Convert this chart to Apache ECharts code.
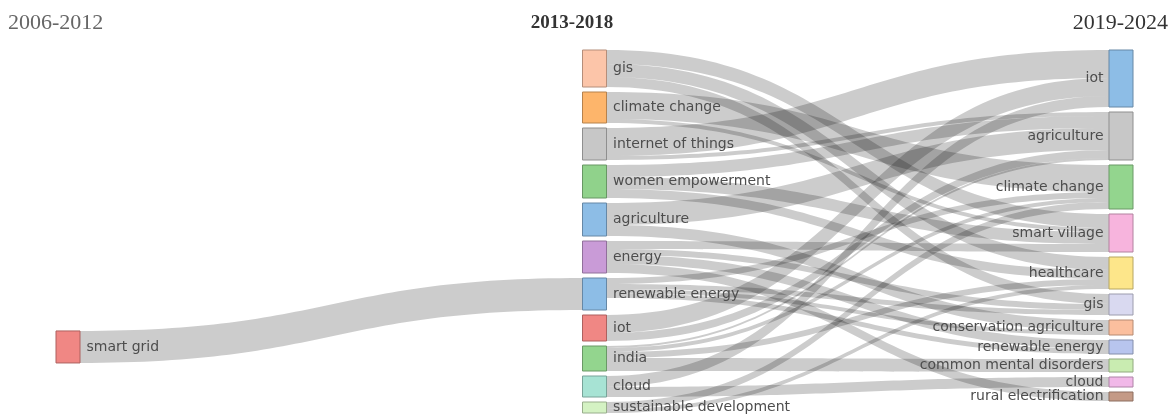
<!DOCTYPE html>
<html>
<head>
<meta charset="utf-8">
<script src="https://cdn.jsdelivr.net/npm/echarts@6/dist/echarts.min.js"></script>
<style>
  html, body { margin: 0; padding: 0; background: #fff; }
  #chart { width: 1174px; height: 418px; }
</style>
</head>
<body>
<div id="chart"></div>
<script>
// Time slices shown as columns
const periods = ['2006-2012', '2013-2018', '2019-2024'];

// Themes in each slice, top to bottom
const themes2006 = ['smart grid'];
const themes2013 = ['gis', 'climate change', 'internet of things', 'women empowerment', 'agriculture',
  'energy', 'renewable energy', 'iot', 'india', 'cloud', 'sustainable development'];
const themes2019 = ['iot', 'agriculture', 'climate change', 'smart village', 'healthcare', 'gis',
  'conservation agriculture', 'renewable energy', 'common mental disorders', 'cloud', 'rural electrification'];

// Node fill colours, one per theme
const colors2006 = ['#f08784'];
const colors2013 = ['#fcc5a9', '#fdb56b', '#c7c7c7', '#90d28b', '#8dbde6',
  '#c99bd7', '#8dbde6', '#f08784', '#93d58e', '#a7e3d4', '#d4f2c3'];
const colors2019 = ['#8dbde6', '#c7c7c7', '#93d58e', '#f7b4dd', '#fde68a', '#d9d9f0',
  '#fbbf9e', '#b8c5ee', '#c9ecb1', '#f1b8e8', '#c49a86'];

// Flows between slices: [from theme, to theme, weight]
const flows0612 = [
  ['smart grid', 'renewable energy', 32]
];
const flows1318 = [
  ['gis', 'smart village', 14],
  ['gis', 'healthcare', 13],
  ['gis', 'gis', 10],
  ['climate change', 'climate change', 27],
  ['climate change', 'smart village', 4],
  ['internet of things', 'iot', 28],
  ['internet of things', 'agriculture', 4],
  ['women empowerment', 'agriculture', 12],
  ['women empowerment', 'smart village', 12],
  ['women empowerment', 'healthcare', 9],
  ['agriculture', 'agriculture', 22],
  ['agriculture', 'conservation agriculture', 11],
  ['energy', 'smart village', 8],
  ['energy', 'gis', 6],
  ['energy', 'renewable energy', 9],
  ['energy', 'rural electrification', 9],
  ['renewable energy', 'climate change', 6],
  ['renewable energy', 'gis', 5],
  ['renewable energy', 'conservation agriculture', 4],
  ['renewable energy', 'renewable energy', 5],
  ['iot', 'iot', 18],
  ['iot', 'agriculture', 8],
  ['india', 'agriculture', 2],
  ['india', 'climate change', 4],
  ['india', 'healthcare', 6],
  ['india', 'common mental disorders', 13],
  ['cloud', 'iot', 11],
  ['cloud', 'cloud', 10],
  ['sustainable development', 'climate change', 7],
  ['sustainable development', 'healthcare', 4]
];

// Vertical placement of the lone first-slice node within the layout box (0..1)
const FIRST_SLICE_OFFSET = 0.774;

function darken(hex, k) {
  const n = parseInt(hex.slice(1), 16);
  const r = Math.round(((n >> 16) & 255) * k);
  const g = Math.round(((n >> 8) & 255) * k);
  const b = Math.round((n & 255) * k);
  return 'rgb(' + r + ',' + g + ',' + b + ')';
}

const themeLists = [themes2006, themes2013, themes2019];
const colorLists = [colors2006, colors2013, colors2019];
const nodeId = (depth, name) => periods[depth] + '|' + name;

const nodes = [];
themeLists.forEach((list, depth) => {
  list.forEach((name, i) => {
    const c = colorLists[depth][i];
    const node = {
      id: nodeId(depth, name),
      name: nodeId(depth, name),
      theme: name,
      depth: depth,
      itemStyle: { color: c, borderColor: darken(c, 0.72) }
    };
    if (depth === 2) node.label = { position: 'left', distance: 5 };
    if (depth === 0) node.localY = FIRST_SLICE_OFFSET;
    nodes.push(node);
  });
});

const links = [];
[flows0612, flows1318].forEach((flows, depth) => {
  flows.forEach(([from, to, v]) => {
    links.push({ source: nodeId(depth, from), target: nodeId(depth + 1, to), value: v });
  });
});

const chart = echarts.init(document.getElementById('chart'), null, { renderer: 'canvas' });

const serif = '"Liberation Serif", "Times New Roman", serif';

chart.setOption({
  backgroundColor: '#ffffff',
  animation: false,
  graphic: [
    { type: 'text', x: 8, y: 23, style: { text: periods[0], font: '22px ' + serif, fill: '#666666', align: 'left', verticalAlign: 'middle' } },
    { type: 'text', x: 572, y: 23, style: { text: periods[1], font: 'bold 19px ' + serif, fill: '#333333', align: 'center', verticalAlign: 'middle' } },
    { type: 'text', x: 1168, y: 23, style: { text: periods[2], font: '22px ' + serif, fill: '#333333', align: 'right', verticalAlign: 'middle' } }
  ],
  series: [{
    type: 'sankey',
    left: 56,
    top: 50,
    right: 41,
    bottom: 5,
    nodeWidth: 24,
    nodeGap: 5,
    layoutIterations: 0,
    draggable: false,
    emphasis: { disabled: true },
    data: nodes,
    links: links,
    itemStyle: { borderWidth: 1 },
    lineStyle: { color: '#000000', opacity: 0.2, curveness: 0.5 },
    label: {
      position: 'right',
      distance: 6,
      color: '#4d4d4d',
      fontFamily: 'DejaVu Sans',
      fontSize: 14,
      textShadowColor: '#ffffff',
      textShadowOffsetY: 1,
      textShadowBlur: 0,
      formatter: (p) => (p.data && p.data.theme) || ''
    }
  }]
});
</script>
</body>
</html>
